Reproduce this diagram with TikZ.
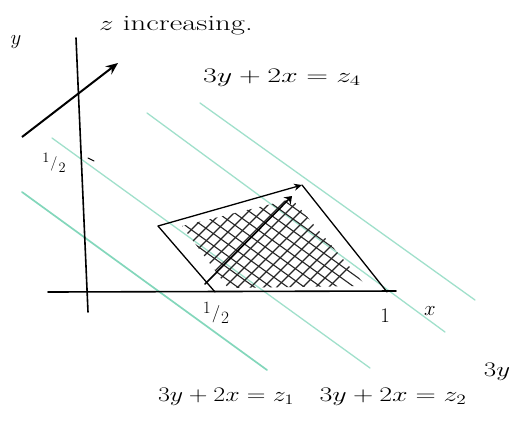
\documentclass[tikz,border=0pt]{standalone}
\usetikzlibrary{arrows.meta}
\definecolor{lpgreen}{RGB}{110,208,176}
\newcommand{\handw}[2]{\scalebox{#1}[1]{#2}}
\newcommand{\hfrac}{\raisebox{5pt}{$1$}\kern1pt$/$\kern1pt\raisebox{-5pt}{$2$}}
\begin{document}
\begin{tikzpicture}[x=1pt,y=-1pt,
  axis/.style={line width=1.6pt,black,line cap=round},
  edge/.style={line width=1.3pt,black,line cap=round},
  level/.style={line width=1.3pt,lpgreen,line cap=round,opacity=0.65},
  hatch/.style={line width=1.1pt,black!85},
  lbl/.style={inner sep=0pt,font=\fontsize{22}{24}\selectfont}]
\useasboundingbox (0,0) rectangle (526,421);
\fill[white] (0,0) rectangle (526,421);
% level lines
\coordinate (a1) at (22,192); \coordinate (a2) at (267,370);
\coordinate (b1) at (52,138); \coordinate (b2) at (370,368);
\coordinate (c1) at (147,113); \coordinate (c2) at (445,332);
\coordinate (d1) at (200,103); \coordinate (d2) at (475,300);
\draw[level,line width=1.7pt,opacity=0.85] (a1) -- (a2);
\draw[level] (b1) -- (b2);
\draw[level] (c1) -- (c2);
\draw[level] (d1) -- (d2);
% axes
\coordinate (yt) at (76,38); \coordinate (yb) at (88,312);
\coordinate (xl) at (48,292); \coordinate (xr) at (396,291);
\draw[axis] (yb) -- (yt);
\draw[axis] (xl) -- (xr);
\coordinate (t1) at (88,158); \coordinate (t2) at (94,161);
\draw[edge,line width=1pt] (t1) -- (t2);
% feasible region
\coordinate (L) at (158,226); \coordinate (T) at (302,185);
\coordinate (R) at (387,292); \coordinate (B) at (215,292);
\begin{scope}
\clip (182,226) -- (292,199) -- (366,286) -- (228,288) -- cycle;
\foreach \c in {395,408,...,620} {\draw[hatch] (\c-300,300) -- (\c-100,100);}
\foreach \c in {-40,-28,...,140} {\draw[hatch] (100,\c+72) -- (420,\c+302.4);}
\end{scope}
\draw[edge] (L) -- (B);
\draw[edge,-{Stealth[length=8pt,width=7pt]}] (L) -- (T);
\draw[edge] (T) -- (R);
\coordinate (h1) at (205,284); \coordinate (h2) at (292,196);
\draw[edge,line width=1.6pt,-{Stealth[length=7pt,width=10pt]}] (h1) -- (h2);
% direction arrow
\coordinate (g1) at (22,137); \coordinate (g2) at (118,63);
\draw[line width=2pt,-{Stealth[length=12pt,width=10pt]}] (g1) -- (g2);
% labels
\node[lbl] (ylab) at (16,42) {$y$};
\node[lbl] (inc) at (176,26) {\handw{1.4}{$z$ increasing.}};
\node[lbl] (z4) at (282,78) {\handw{1.45}{$3y+2x=z_4$}};
\node[lbl,font=\fontsize{14}{16}\selectfont] (yhalf) at (54,163) {\hfrac};
\node[lbl,font=\fontsize{17}{19}\selectfont] (xhalf) at (216,313) {\hfrac};
\node[lbl] (xone) at (385,316) {$1$};
\node[lbl] (xlab) at (430,311) {$x$};
\node[lbl] (z3) at (497,372) {\handw{1.3}{$3y$}};
\node[lbl] (z1) at (226,397) {\handw{1.25}{$3y+2x=z_1$}};
\node[lbl] (z2) at (393,397) {\handw{1.35}{$3y+2x=z_2$}};
\end{tikzpicture}
\end{document}
